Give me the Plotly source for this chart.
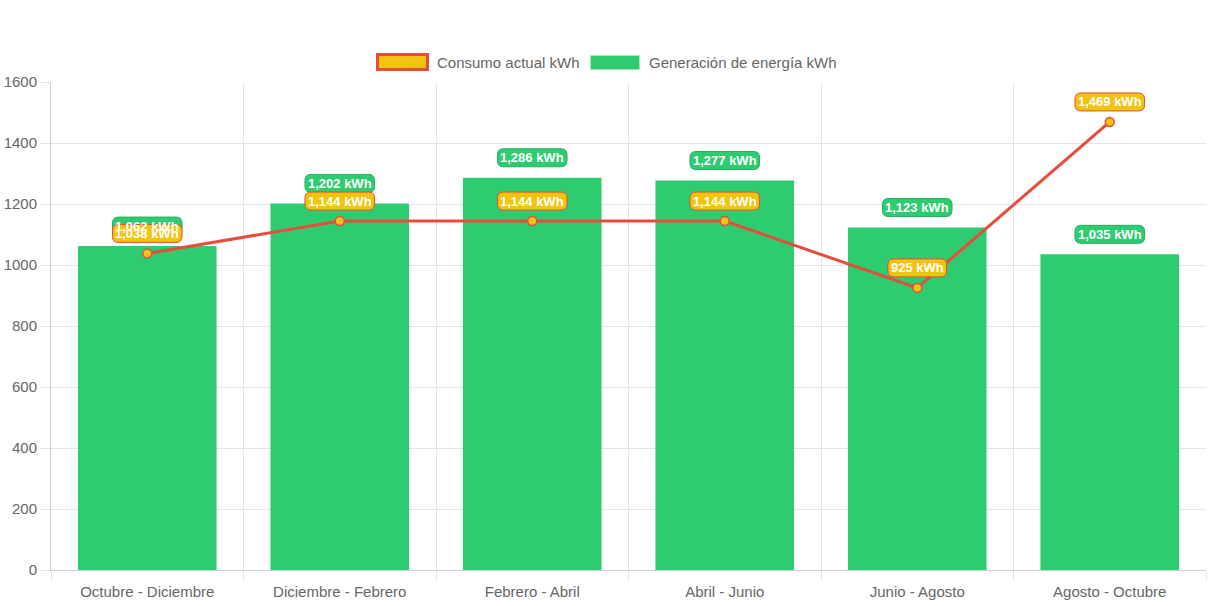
import plotly.graph_objects as go

categories = ["Octubre - Diciembre", "Diciembre - Febrero", "Febrero - Abril",
              "Abril - Junio", "Junio - Agosto", "Agosto - Octubre"]
generacion = [1062, 1202, 1286, 1277, 1123, 1035]
consumo = [1038, 1144, 1144, 1144, 925, 1469]
name_consumo = "Consumo actual kWh"
name_generacion = "Generación de energía kWh"

GREEN = "#2ecc71"
GREEN_DARK = "#27ae60"
RED = "#e74c3c"
YELLOW = "#f1c40f"
FONT = "Liberation Sans, Arial, sans-serif"

W, H = 1213, 606
ML, MR, MT, MB = 51, 7, 82, 36
PW, PH = W - ML - MR, H - MT - MB


def px_x(px):
    return (px - ML) / PW


def px_y(py):
    return (H - MB - py) / PH


# approx bold Arial widths (per 1000 em)
CW = {d: 556 for d in "0123456789"}
CW.update({",": 278, " ": 278, "k": 556, "W": 944, "h": 611})


def text_w(s, size):
    return sum(CW.get(c, 556) for c in s) * size / 1000.0


def rounded_path(w, h, r, dy):
    x0, x1 = -w / 2, w / 2
    y0, y1 = dy - h / 2, dy + h / 2
    return (f"M{x0 + r},{y0} L{x1 - r},{y0} Q{x1},{y0} {x1},{y0 + r} "
            f"L{x1},{y1 - r} Q{x1},{y1} {x1 - r},{y1} L{x0 + r},{y1} "
            f"Q{x0},{y1} {x0},{y1 - r} L{x0},{y0 + r} Q{x0},{y0} {x0 + r},{y0} Z")


fig = go.Figure()
fig.add_trace(go.Bar(
    x=categories, y=generacion, name=name_generacion,
    marker=dict(color=GREEN, line=dict(width=0)), width=0.72,
    showlegend=False,
))
fig.add_trace(go.Scatter(
    x=categories, y=consumo, name=name_consumo, mode="lines+markers",
    line=dict(color=RED, width=3),
    marker=dict(color=YELLOW, size=9, line=dict(color=RED, width=1.5)),
    showlegend=False,
))

shapes = []
annotations = []
LBL = 13
DY = 20
for series, bg, bd in ((generacion, GREEN, GREEN_DARK), (consumo, YELLOW, RED)):
    for c, v in zip(categories, series):
        txt = f"{v:,} kWh"
        w = text_w(txt, LBL) + 6
        shapes.append(dict(
            type="path", xref="x", yref="y", xsizemode="pixel", ysizemode="pixel",
            xanchor=c, yanchor=v, path=rounded_path(w, 18, 6, DY),
            fillcolor=bg, line=dict(color=bd, width=1), layer="above",
        ))
        annotations.append(dict(
            x=c, y=v, xref="x", yref="y", text=f"<b>{txt}</b>", showarrow=False,
            yshift=DY, font=dict(color="white", size=LBL, family=FONT),
        ))

# custom legend (Chart.js-style boxes)
shapes.append(dict(type="rect", xref="paper", yref="paper",
                   x0=px_x(377.5), x1=px_x(427.5), y0=px_y(69.5), y1=px_y(54.5),
                   fillcolor=YELLOW, line=dict(color=RED, width=3)))
shapes.append(dict(type="rect", xref="paper", yref="paper",
                   x0=px_x(590.5), x1=px_x(639.5), y0=px_y(69.5), y1=px_y(55.5),
                   fillcolor=GREEN, line=dict(color="#a8e6c1", width=1)))
annotations.append(dict(x=px_x(435), y=px_y(62), xref="paper", yref="paper",
                        text=name_consumo, showarrow=False, xanchor="left", yanchor="middle",
                        font=dict(size=15, color="#666666", family=FONT)))
annotations.append(dict(x=px_x(647), y=px_y(62), xref="paper", yref="paper",
                        text=name_generacion, showarrow=False, xanchor="left", yanchor="middle",
                        font=dict(size=15, color="#666666", family=FONT)))

fig.update_layout(
    width=W, height=H,
    margin=dict(l=ML, r=MR, t=MT, b=MB, autoexpand=False),
    paper_bgcolor="white", plot_bgcolor="white",
    font=dict(family=FONT, size=15, color="#666666"),
    showlegend=False,
    shapes=shapes,
    annotations=annotations,
)
fig.update_xaxes(
    type="category", tickson="boundaries", showgrid=True, gridcolor="#e5e5e5",
    ticks="outside", ticklen=10, tickcolor="#e5e5e5", showline=True, linecolor="#d0d0d0",
    tickfont=dict(size=15, color="#666666"), automargin=False, ticklabelstandoff=8,
)
fig.update_yaxes(
    range=[0, 1600], dtick=200, showgrid=True, gridcolor="#e5e5e5",
    ticks="outside", ticklen=10, tickcolor="#e5e5e5", showline=True, linecolor="#d0d0d0",
    zeroline=False, tickfont=dict(size=15, color="#666666"), automargin=False,
)

fig.write_html("out.html", config={"displayModeBar": False},
               post_script="document.body.style.margin='0';")
